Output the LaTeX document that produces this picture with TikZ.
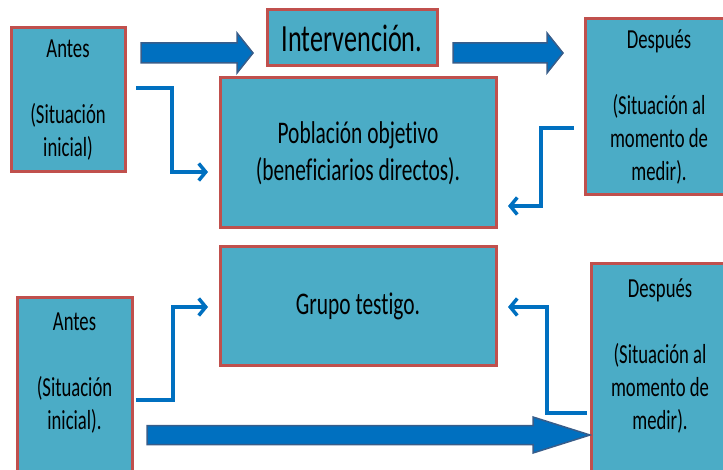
\documentclass[tikz,border=0pt]{standalone}
\usepackage{fontspec}
\setmainfont{Carlito}[FakeStretch=0.68, Ligatures=NoCommon]
\usetikzlibrary{positioning,calc,arrows.meta}

\definecolor{boxfill}{RGB}{75,172,198}
\definecolor{boxline}{RGB}{192,80,77}
\definecolor{arrowblue}{RGB}{0,112,192}
\definecolor{arrowedge}{RGB}{56,93,138}

\tikzset{
  box/.style={rectangle, draw=boxline, fill=boxfill, line width=3pt, outer sep=0pt, align=center},
  bigarrow/.style={fill=arrowblue, draw=arrowedge, line width=1.5pt, line join=miter},
  elbow/.style={draw=arrowblue, line width=3.5pt, -{Straight Barb[length=7pt,width=17pt]}}
}

% wide block arrow from #1 to the tip #2 (half shaft #3, half head #4, head length #5)
\newcommand{\blockarrow}[5]{%
  \draw[bigarrow] let \p1=(#1), \p2=(#2) in
    (\x1,\y1+#3) -- (\x2-#5,\y1+#3) -- (\x2-#5,\y1+#4) -- (\x2,\y1)
    -- (\x2-#5,\y1-#4) -- (\x2-#5,\y1-#3) -- (\x1,\y1-#3) -- cycle;}

\begin{document}
\begin{tikzpicture}[x=1pt, y=1pt]
  \tikzstyle{every node}=[font=\fontsize{27.5}{33}\selectfont]
  \useasboundingbox (0,0) rectangle (723,-470);
  \clip (0,0) rectangle (723,-470);

  % Main boxes
  \node (antesA) [box, minimum width=114pt, minimum height=144pt] at (68,-100)
        {Antes\\~\\(Situación\\inicial)};
  \node (interv) [box, minimum width=170pt, minimum height=56pt, right=142pt of antesA.east,
                  yshift=62pt, font=\fontsize{38.5}{42}\selectfont] {Intervención.};
  \node (despuesA) [box, minimum width=148pt, minimum height=176pt, right=148pt of interv.east,
                    yshift=-69pt] {Después\\~\\(Situación al\\momento de\\medir).};
  \node (poblacion) [box, minimum width=276pt, minimum height=150pt, below=12pt of interv.south,
                     xshift=6pt, font=\fontsize{31.5}{37}\selectfont]
                    {Población objetivo\\(beneficiarios directos).};
  \node (grupo) [box, minimum width=276pt, minimum height=118pt, below=19pt of poblacion,
                 font=\fontsize{31.5}{37}\selectfont] {Grupo testigo.};

  % lower boxes run off the page
  \node (antesB) [box, minimum width=115pt, inner ysep=15pt, below=126pt of antesA.south west,
                  anchor=north west, xshift=6pt] {Antes\\~\\(Situación\\inicial).\\~\\~};
  \node (despuesB) [box, minimum width=138pt, inner ysep=15pt, below=69pt of despuesA.south west,
                    anchor=north west, xshift=6pt] {Después\\~\\(Situación al\\momento de\\medir).\\~\\~};

  % Arrows
  \blockarrow{$(antesA.east |- interv.center)+(16,-15)$}{$(interv.west)+(-14,-15)$}{10pt}{20pt}{16pt}
  \blockarrow{$(interv.east)+(16,-15)$}{$(despuesA.west |- interv.center)+(-22,-15)$}{10pt}{20pt}{16pt}
  \blockarrow{$(antesB.east |- grupo.south)+(15,-70)$}{$(despuesB.west |- grupo.south)+(-1,-70)$}{9.5pt}{18pt}{57pt}

  \draw[elbow] ($(antesA.east)+(11,12)$) -| ++(36,-42) |- ($(poblacion.west)+(-12,-19)$);
  \draw[elbow] ($(despuesA.west)+(-11,-21)$) -| ++(-33,-39) |- ($(poblacion.east)+(12,-53)$);
  \draw[elbow] ($(antesB.north east)+(4,-102)$) -| ++(37,46) |- ($(grupo.west)+(-12,-1)$);
  \draw[elbow] ($(despuesB.north west)+(-4,-149)$) -| ++(-40,53) |- ($(grupo.east)+(12,-1)$);
\end{tikzpicture}
\end{document}
